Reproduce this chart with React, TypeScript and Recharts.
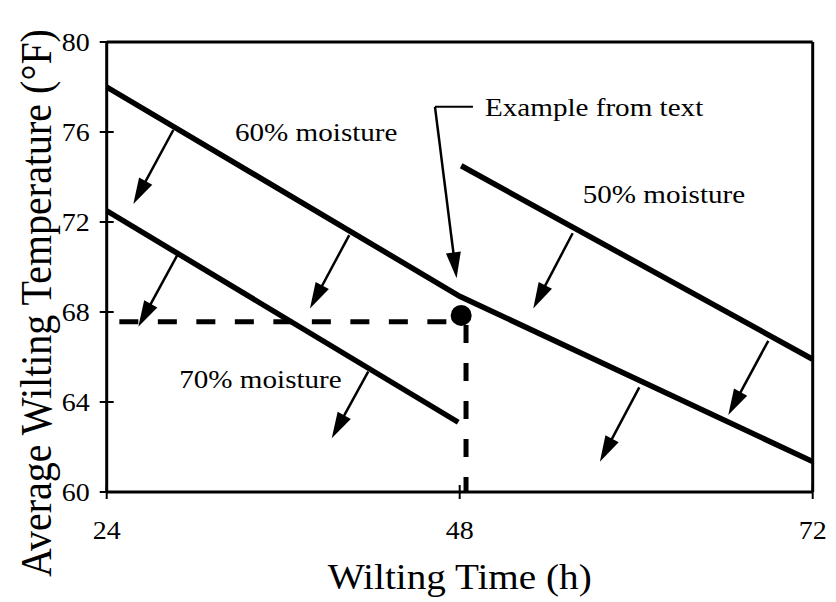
import { LineChart, Line, XAxis, YAxis, ReferenceLine, ReferenceDot, Label } from "recharts";

// axis ticks
const xTicks = [24, 48, 72];
const yTicks = [60, 64, 68, 72, 76, 80];

// moisture curves (wilting time h, avg temp °F)
const moisture60 = [
  { x: 24, y: 78.0 },
  { x: 48, y: 68.7 },
  { x: 72, y: 61.35 },
];
const moisture70 = [
  { x: 24, y: 72.5 },
  { x: 47.9, y: 63.1 },
];
const moisture50 = [
  { x: 48.1, y: 74.5 },
  { x: 72, y: 65.9 },
];

// small arrows: from (x1, y1) on the curve to tip (x2, y2)
const arrows = [
  [28.53, 76.09, 25.81, 72.8],
  [28.8, 70.53, 26.15, 67.35],
  [40.49, 71.42, 37.82, 68.16],
  [41.78, 65.35, 39.3, 62.39],
  [55.68, 71.5, 53.0, 68.16],
  [68.98, 66.72, 66.26, 63.42],
  [60.21, 64.65, 57.53, 61.35],
];

// worked example
const examplePoint = { x: 48.1, y: 67.85 };
const leaderTop = [
  { x: 48.9, y: 77.12 },
  { x: 46.32, y: 77.12 },
];
const leaderDown = [
  { x: 46.32, y: 77.12 },
  { x: 47.79, y: 69.5 },
];
const dashH = [
  { x: 24.86, y: 67.57 },
  { x: 47.13, y: 67.57 },
];
const dashV = [
  { x: 48.43, y: 67.42 },
  { x: 48.43, y: 60 },
];

const annotations = [
  { text: "60% moisture", x: 32.72, y: 75.6, anchor: "start" },
  { text: "50% moisture", x: 56.36, y: 72.83, anchor: "start" },
  { text: "Example from text", x: 49.72, y: 76.71, anchor: "start" },
  { text: "70% moisture", x: 39.98, y: 64.62, anchor: "end" },
];

const FONT = "'Liberation Serif', 'Times New Roman', serif";
// the source figure is a bit wider than tall, so glyphs get a horizontal stretch
const STRETCH = 1.12;
const TICK_GAP = 10;

const YTick = (props: any) => {
  const { x, y, payload } = props;
  const ax = x + TICK_GAP;
  return (
    <g>
      <line x1={ax - 7} x2={ax + 7} y1={y} y2={y} stroke="#000" strokeWidth={2} />
      <text
        transform={`translate(${ax - 17},${y + 8.5}) scale(${STRETCH},1)`}
        textAnchor="end"
        fontSize={25}
        fontFamily={FONT}
        fill="#000"
      >
        {payload.value}
      </text>
    </g>
  );
};

const XTick = (props: any) => {
  const { x, y, payload } = props;
  const ay = y - TICK_GAP;
  return (
    <g>
      <line x1={x} x2={x} y1={ay - 7} y2={ay + 7} stroke="#000" strokeWidth={2} />
      <text
        transform={`translate(${x},${ay + 47}) scale(${STRETCH},1)`}
        textAnchor="middle"
        fontSize={25}
        fontFamily={FONT}
        fill="#000"
      >
        {payload.value}
      </text>
    </g>
  );
};

const arrowShape = (withHead: boolean) => (props: any) => {
  const { x1, y1, x2, y2 } = props;
  if (!withHead) {
    return <line x1={x1} y1={y1} x2={x2} y2={y2} stroke="#000" strokeWidth={2} />;
  }
  const dx = x2 - x1;
  const dy = y2 - y1;
  const len = Math.sqrt(dx * dx + dy * dy) || 1;
  const ux = dx / len;
  const uy = dy / len;
  const headLen = 26;
  const headW = 7.5;
  const bx = x2 - ux * headLen;
  const by = y2 - uy * headLen;
  const pts = `${x2},${y2} ${bx - uy * headW},${by + ux * headW} ${bx + uy * headW},${by - ux * headW}`;
  return (
    <g>
      <line x1={x1} y1={y1} x2={bx + ux * 2} y2={by + uy * 2} stroke="#000" strokeWidth={2.5} />
      <polygon points={pts} fill="#000" />
    </g>
  );
};

const annotationContent = (text: string, anchor: string) => (props: any) => {
  const vb = props.viewBox || {};
  return (
    <text
      transform={`translate(${vb.x},${vb.y}) scale(${STRETCH},1)`}
      textAnchor={anchor}
      fontSize={26}
      fontFamily={FONT}
      fill="#000"
    >
      {text}
    </text>
  );
};

const xTitle = (props: any) => {
  const vb = props.viewBox;
  return (
    <text
      transform={`translate(${vb.x + vb.width / 2},${vb.y + 97}) scale(${STRETCH},1)`}
      textAnchor="middle"
      fontSize={35}
      fontFamily={FONT}
      fill="#000"
    >
      Wilting Time (h)
    </text>
  );
};

const yTitle = (props: any) => {
  const vb = props.viewBox;
  return (
    <text
      transform={`translate(${vb.x + 4},${vb.y + vb.height / 2 + 36}) scale(${STRETCH},1) rotate(-90)`}
      textAnchor="middle"
      fontSize={40}
      fontFamily={FONT}
      fill="#000"
    >
      Average Wilting Temperature (°F)
    </text>
  );
};

export default function App() {
  return (
    <div style={{ position: "absolute", left: 0, top: 0, background: "#fff" }}>
      <LineChart width={836} height={602} margin={{ top: 42, right: 23.3, bottom: 50, left: 46.7 }}>
        <XAxis
          type="number"
          dataKey="x"
          domain={[24, 72]}
          ticks={xTicks}
          height={60}
          axisLine={{ stroke: "#000", strokeWidth: 3 }}
          tickLine={false}
          tickSize={0}
          tickMargin={TICK_GAP}
          tick={<XTick />}
          allowDataOverflow
        >
          <Label content={xTitle} />
        </XAxis>
        <YAxis
          type="number"
          dataKey="y"
          domain={[60, 80]}
          ticks={yTicks}
          width={60}
          axisLine={{ stroke: "#000", strokeWidth: 3 }}
          tickLine={false}
          tickSize={0}
          tickMargin={TICK_GAP}
          tick={<YTick />}
          allowDataOverflow
        >
          <Label content={yTitle} />
        </YAxis>

        <ReferenceLine y={80} stroke="#000" strokeWidth={3} />
        <ReferenceLine x={72} stroke="#000" strokeWidth={3} />

        <Line data={moisture60} dataKey="y" stroke="#000" strokeWidth={5.5} dot={false} isAnimationActive={false} />
        <Line data={moisture70} dataKey="y" stroke="#000" strokeWidth={5.5} dot={false} isAnimationActive={false} />
        <Line data={moisture50} dataKey="y" stroke="#000" strokeWidth={5.5} dot={false} isAnimationActive={false} />

        <ReferenceLine segment={dashH} stroke="#000" strokeWidth={5} strokeDasharray="19 19.5" />
        <ReferenceLine segment={dashV} stroke="#000" strokeWidth={5} strokeDasharray="18 20" />

        {arrows.map((a, i) => (
          <ReferenceLine
            key={i}
            segment={[
              { x: a[0], y: a[1] },
              { x: a[2], y: a[3] },
            ]}
            shape={arrowShape(true)}
          />
        ))}
        <ReferenceLine segment={leaderTop} shape={arrowShape(false)} />
        <ReferenceLine segment={leaderDown} shape={arrowShape(true)} />

        <ReferenceDot x={examplePoint.x} y={examplePoint.y} r={10.5} fill="#000" stroke="none" />

        {annotations.map((a) => (
          <ReferenceDot key={a.text} x={a.x} y={a.y} r={0} fill="none" stroke="none">
            <Label content={annotationContent(a.text, a.anchor)} />
          </ReferenceDot>
        ))}
      </LineChart>
    </div>
  );
}
